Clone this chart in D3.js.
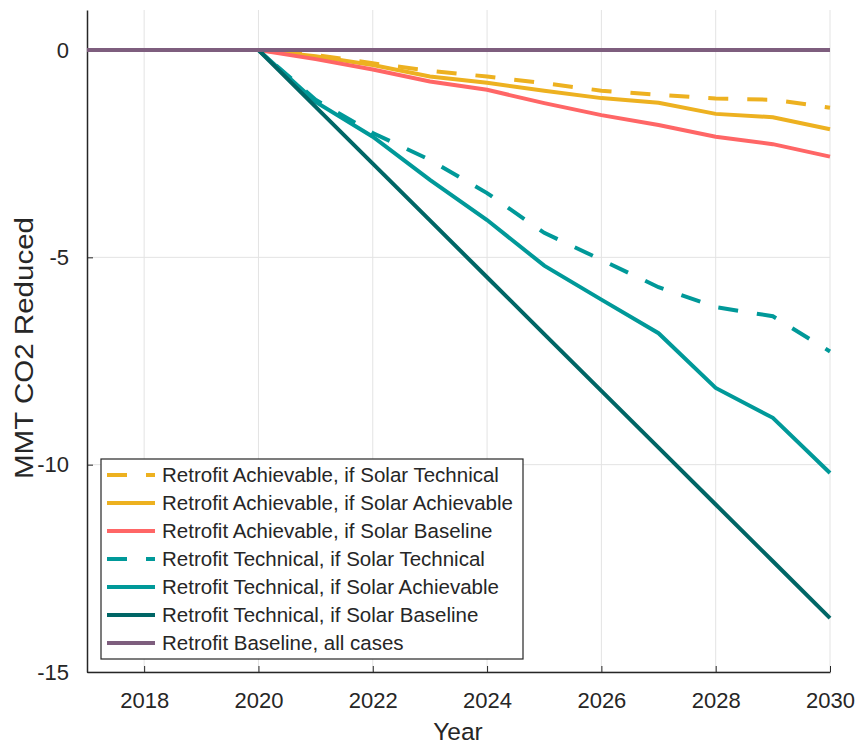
<!DOCTYPE html>
<html>
<head>
<meta charset="utf-8">
<script src="https://cdn.jsdelivr.net/npm/d3@7"></script>
<style>
  body { margin: 0; background: #fff; }
  svg text { font-family: "Liberation Sans", Arial, Helvetica, sans-serif; fill: #262626; }
  .axis path, .axis line { stroke: #262626; }
  .grid line { stroke: #e3e3e3; }
</style>
</head>
<body>
<svg id="chart" width="859" height="746"></svg>
<script>
// years on the x axis
const years = [2017, 2018, 2019, 2020, 2021, 2022, 2023, 2024, 2025, 2026, 2027, 2028, 2029, 2030];

// MMT CO2 reduced
const achSolarTech = [0, 0, 0, 0, -0.12, -0.32, -0.5, -0.64, -0.8, -0.98, -1.08, -1.17, -1.2, -1.39];
const achSolarAch = [0, 0, 0, 0, -0.15, -0.36, -0.64, -0.79, -0.98, -1.16, -1.27, -1.54, -1.62, -1.91];
const achSolarBase = [0, 0, 0, 0, -0.22, -0.47, -0.76, -0.96, -1.28, -1.57, -1.81, -2.09, -2.27, -2.57];
const techSolarTech = [0, 0, 0, 0, -1.2, -2.0, -2.65, -3.45, -4.41, -5.06, -5.72, -6.2, -6.42, -7.27];
const techSolarAch = [0, 0, 0, 0, -1.25, -2.09, -3.13, -4.1, -5.2, -6.02, -6.83, -8.15, -8.87, -10.2];
const techSolarBase = [0, 0, 0, 0, -1.37, -2.74, -4.11, -5.48, -6.85, -8.22, -9.59, -10.96, -12.33, -13.7];
const baseAll = [0, 0, 0, 0, 0, 0, 0, 0, 0, 0, 0, 0, 0, 0];

const seriesNames = [
  "Retrofit Achievable, if Solar Technical",
  "Retrofit Achievable, if Solar Achievable",
  "Retrofit Achievable, if Solar Baseline",
  "Retrofit Technical, if Solar Technical",
  "Retrofit Technical, if Solar Achievable",
  "Retrofit Technical, if Solar Baseline",
  "Retrofit Baseline, all cases"
];
const seriesValues = [achSolarTech, achSolarAch, achSolarBase, techSolarTech, techSolarAch, techSolarBase, baseAll];
const seriesColors = ["#edb120", "#edb120", "#ff6666", "#009999", "#009999", "#006666", "#7e5e7e"];
const seriesDashed = [true, false, false, true, false, false, false];

const xTicks = [2018, 2020, 2022, 2024, 2026, 2028, 2030];
const yTicks = [-15, -10, -5, 0];

const svg = d3.select("#chart");

const x = d3.scaleLinear().domain([2017, 2030]).range([87, 830]);
const y = d3.scaleLinear().domain([-15, 0.965]).range([672, 10]);

// grid
const grid = svg.append("g").attr("class", "grid");
grid.selectAll(".gx").data(xTicks).enter().append("line")
  .attr("x1", (d) => x(d)).attr("x2", (d) => x(d))
  .attr("y1", y.range()[1]).attr("y2", y.range()[0]);
grid.selectAll(".gy").data(yTicks).enter().append("line")
  .attr("y1", (d) => y(d)).attr("y2", (d) => y(d))
  .attr("x1", x.range()[0]).attr("x2", x.range()[1]);

// axes (plain hyphen for negatives, like the original)
const plain = (d) => String(d);

svg.append("g")
  .attr("class", "axis x")
  .attr("transform", "translate(0,672)")
  .call(d3.axisBottom(x).tickValues(xTicks).tickFormat(plain).tickSizeInner(-6).tickSizeOuter(0).tickPadding(20))
  .call((g) => g.selectAll("text").style("font-size", "22px"));

svg.append("g")
  .attr("class", "axis y")
  .attr("transform", "translate(87,0)")
  .call(d3.axisLeft(y).tickValues(yTicks).tickFormat(plain).tickSizeInner(-6).tickSizeOuter(0).tickPadding(18))
  .call((g) => g.selectAll("text").style("font-size", "22px"));

svg.selectAll(".axis path").attr("stroke-width", 1.5);

// lines
const line = d3.line()
  .x((d, i) => x(years[i]))
  .y((d) => y(d));

svg.append("g")
  .selectAll("path")
  .data(seriesValues)
  .enter()
  .append("path")
  .attr("fill", "none")
  .attr("stroke", (d, i) => seriesColors[i])
  .attr("stroke-width", 4)
  .attr("stroke-dasharray", (d, i) => (seriesDashed[i] ? "20,19" : null))
  .attr("d", (d) => line(d));

// axis labels
svg.append("text")
  .attr("x", 458).attr("y", 740)
  .attr("text-anchor", "middle")
  .style("font-size", "24.5px")
  .text("Year");

svg.append("text")
  .attr("transform", "translate(33,348) rotate(-90)")
  .attr("text-anchor", "middle")
  .attr("textLength", 262)
  .attr("lengthAdjust", "spacingAndGlyphs")
  .style("font-size", "25px")
  .text("MMT CO2 Reduced");

// legend
const lg = svg.append("g").attr("transform", "translate(101,459)");
lg.append("rect")
  .attr("width", 422).attr("height", 200)
  .attr("fill", "#fff").attr("stroke", "#262626").attr("stroke-width", 1.2);

const rows = lg.selectAll(".row").data(seriesNames).enter().append("g")
  .attr("transform", (d, i) => `translate(0,${16 + i * 28})`);
rows.append("line")
  .attr("x1", 6).attr("x2", 54)
  .attr("stroke", (d, i) => seriesColors[i])
  .attr("stroke-width", 4)
  .attr("stroke-dasharray", (d, i) => (seriesDashed[i] ? "20,19" : null));
rows.append("text")
  .attr("x", 61).attr("dy", "0.36em")
  .style("font-size", "20.5px")
  .text((d) => d);
</script>
</body>
</html>
